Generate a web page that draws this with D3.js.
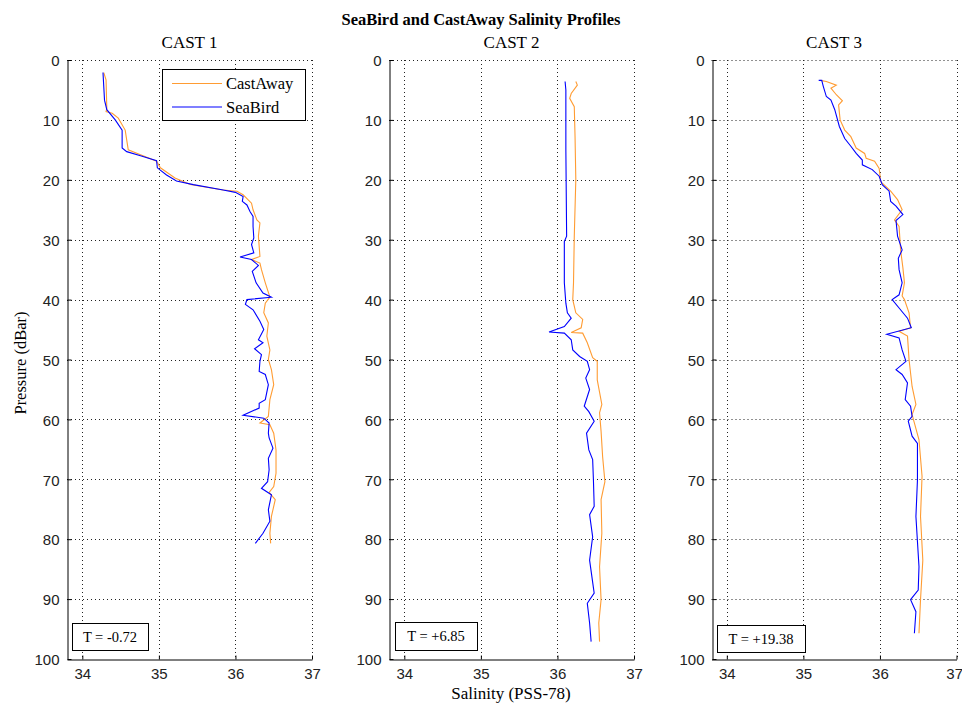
<!DOCTYPE html>
<html><head><meta charset="utf-8">
<script src="https://cdn.jsdelivr.net/npm/d3@7/dist/d3.min.js"></script>
<style>body{margin:0;background:#fff}svg{display:block}</style>
</head><body><svg id="c" width="962" height="706"></svg>
<script>
// ---------- data ----------
const castTitles = ["CAST 1", "CAST 2", "CAST 3"];
const temperatureLabels = ["T = -0.72", "T = +6.85", "T = +19.38"];
const seriesNames = ["CastAway", "SeaBird"];
const salinityTicks = [34, 35, 36, 37];
const pressureTicks = [0, 10, 20, 30, 40, 50, 60, 70, 80, 90, 100];

// [salinity, pressure]
const cast1CastAway = [[34.28,2.1],[34.31,3.3],[34.32,8.1],[34.31,8.6],[34.39,8.9],[34.47,9.7],[34.56,11.7],[34.6,15],[34.76,15.8],[34.97,16.9],[35.02,18],[35.21,19.7],[35.41,20.8],[35.84,21.7],[36.02,21.9],[36.1,22.5],[36.21,23.9],[36.23,25],[36.28,26.7],[36.32,27.2],[36.3,29.4],[36.32,32.8],[36.21,33.3],[36.32,33.9],[36.34,35],[36.39,37.2],[36.45,39.6],[36.39,40.6],[36.37,42.2],[36.43,43.9],[36.41,46.1],[36.45,48.4],[36.43,50],[36.47,51.7],[36.5,54.2],[36.45,56.7],[36.43,59.5],[36.32,60.6],[36.45,60.9],[36.5,62.3],[36.53,65.1],[36.53,69],[36.5,71.2],[36.44,72.2],[36.52,73.4],[36.47,76.2],[36.45,79],[36.46,80.7]];
const cast1SeaBird = [[34.27,2.1],[34.29,6.7],[34.32,8.3],[34.43,10],[34.52,11.7],[34.52,14.7],[34.58,15.3],[34.76,16],[34.97,16.8],[34.98,18],[35.1,19.2],[35.23,20.2],[35.45,20.8],[35.84,21.7],[36.0,22.1],[36.1,22.8],[36.09,23.6],[36.15,24.2],[36.19,25.3],[36.23,26.1],[36.23,27.8],[36.24,29.7],[36.21,30.8],[36.24,32.2],[36.06,32.9],[36.21,33.3],[36.3,34.3],[36.22,35.3],[36.27,37.2],[36.36,38.9],[36.47,39.6],[36.15,40],[36.13,40.8],[36.23,41.7],[36.32,43.6],[36.37,45],[36.3,46.7],[36.36,47.2],[36.25,48.2],[36.34,49.2],[36.32,50.3],[36.31,52],[36.39,52.5],[36.43,54.2],[36.39,56.7],[36.31,57.3],[36.31,58.1],[36.1,59.3],[36.37,59.8],[36.44,60.6],[36.43,62.3],[36.44,63.1],[36.49,64.8],[36.43,66.5],[36.44,68.4],[36.42,70.4],[36.34,71.5],[36.47,72.6],[36.43,75.1],[36.45,77],[36.36,79],[36.26,80.7]];
const cast2CastAway = [[36.24,3.6],[36.26,4.2],[36.18,5.6],[36.16,6.4],[36.22,7.8],[36.23,12.8],[36.24,20],[36.22,29.4],[36.21,37.2],[36.2,40],[36.24,42.2],[36.33,43.3],[36.31,44.7],[36.18,45.5],[36.33,45.6],[36.39,47.2],[36.46,49.7],[36.52,50.3],[36.52,53.4],[36.58,57.5],[36.55,58.9],[36.57,62],[36.59,66.2],[36.62,70.4],[36.57,73.4],[36.58,79],[36.55,84.6],[36.57,90.1],[36.54,94],[36.55,97.1]];
const cast2SeaBird = [[36.1,3.6],[36.11,5],[36.11,15],[36.12,29.4],[36.09,30.3],[36.09,37.2],[36.11,40.6],[36.13,42.2],[36.18,43.1],[36.09,44.5],[35.89,45.4],[36.09,45.6],[36.18,46.7],[36.2,48.4],[36.29,49.5],[36.39,50.3],[36.42,51.7],[36.37,53.1],[36.42,55],[36.35,57.8],[36.41,58.7],[36.48,60.3],[36.38,62.3],[36.41,65.1],[36.46,66.7],[36.47,70.1],[36.48,74.5],[36.42,75.9],[36.46,79.6],[36.42,83.5],[36.48,89],[36.39,90.7],[36.42,94],[36.44,97.1]];
const cast3CastAway = [[35.22,3.4],[35.3,3.6],[35.43,4.2],[35.36,4.7],[35.43,5.8],[35.51,6.8],[35.46,7.5],[35.48,10],[35.54,11.7],[35.62,12.8],[35.69,14.7],[35.8,15.6],[35.82,16.4],[35.93,16.9],[35.99,18.1],[36.01,20.3],[36.14,21.9],[36.23,23.3],[36.29,25],[36.19,26.7],[36.25,27.8],[36.27,31.7],[36.3,34.7],[36.32,37.2],[36.29,39.4],[36.32,40],[36.38,42.2],[36.4,44.7],[36.25,45.3],[36.36,46.1],[36.38,50],[36.42,54.5],[36.47,57.5],[36.42,59.2],[36.51,63.4],[36.55,69.5],[36.53,76.2],[36.56,83.5],[36.53,90.1],[36.51,95.7]];
const cast3SeaBird = [[35.2,3.4],[35.24,3.4],[35.26,4.4],[35.3,6.1],[35.36,6.7],[35.41,8.3],[35.47,11.1],[35.54,13.1],[35.62,14.4],[35.69,15.6],[35.77,16.7],[35.77,17.5],[35.9,18.3],[35.99,19.4],[36.03,20.8],[36.12,21.9],[36.14,23.6],[36.21,24.4],[36.3,25.8],[36.21,26.8],[36.23,29.4],[36.29,31.7],[36.24,33.1],[36.25,35],[36.29,37.2],[36.25,39.2],[36.16,40],[36.25,41.4],[36.36,43.1],[36.41,44.7],[36.09,45.8],[36.25,46.4],[36.29,48.4],[36.34,50.3],[36.21,51.7],[36.29,52.5],[36.36,53.9],[36.33,56.7],[36.4,57.8],[36.42,59.5],[36.37,60.3],[36.42,62.8],[36.49,64],[36.49,70.1],[36.47,76.2],[36.51,84.6],[36.5,88.5],[36.4,90.1],[36.47,92.1],[36.45,95.7]];

const casts = [
  {castAway: cast1CastAway, seaBird: cast1SeaBird},
  {castAway: cast2CastAway, seaBird: cast2SeaBird},
  {castAway: cast3CastAway, seaBird: cast3SeaBird}
];

// ---------- layout ----------
const svg = d3.select("#c");
const orange = "#ff9c33", blue = "#0000ff";
const panelLeft = [67, 389, 711.5];
const panelW = 245, plotTop = 60, plotBottom = 659;
const serif = "'Liberation Serif','Times New Roman',serif";
const sans = "'Liberation Sans',Arial,sans-serif";
const tBoxes = [[72,623,76,27],[395,622,82,28],[717,625,88,27]];

svg.append("rect").attr("width",962).attr("height",706).attr("fill","#fff");

svg.append("text").attr("x",481).attr("y",24.5).attr("text-anchor","middle")
  .attr("font-family",serif).attr("font-weight","bold").attr("font-size",16.5)
  .text("SeaBird and CastAway Salinity Profiles");

casts.forEach((c, i) => {
  const x = d3.scaleLinear().domain([33.8, 37]).range([panelLeft[i], panelLeft[i] + panelW]);
  const y = d3.scaleLinear().domain([0, 100]).range([plotTop, plotBottom]);
  const g = svg.append("g");

  // grid
  g.selectAll(".gx").data(salinityTicks).join("line")
    .attr("x1", d => Math.round(x(d)) + 0.5).attr("x2", d => Math.round(x(d)) + 0.5)
    .attr("y1", plotTop).attr("y2", plotBottom)
    .attr("stroke", "#222").attr("stroke-width", 1).attr("stroke-dasharray", "1,3");
  g.selectAll(".gy").data(pressureTicks.filter(d => d < 100)).join("line")
    .attr("y1", d => Math.round(y(d)) + 0.5).attr("y2", d => Math.round(y(d)) + 0.5)
    .attr("x1", x(33.8)).attr("x2", x(37))
    .attr("stroke", "#222").attr("stroke-width", 1).attr("stroke-dasharray", "1,3");

  // axes
  const yAxis = d3.axisLeft(y).tickValues(pressureTicks).tickFormat(d3.format("d"))
    .tickSizeInner(-4).tickSizeOuter(0).tickPadding(8);
  const gy = g.append("g").attr("transform", `translate(${Math.round(x(33.8)) + 0.5},0)`).call(yAxis);
  const xAxis = d3.axisBottom(x).tickValues(salinityTicks).tickFormat(d3.format("d"))
    .tickSizeInner(-4).tickSizeOuter(0).tickPadding(8);
  const gx = g.append("g").attr("transform", `translate(0,${Math.round(y(100)) + 0.5})`).call(xAxis);
  [gx, gy].forEach(a => {
    a.select(".domain").attr("stroke", "#000");
    a.selectAll(".tick line").attr("stroke", "#000");
    a.selectAll(".tick text").attr("font-family", sans).attr("font-size", 15).attr("fill", "#222");
  });
  gy.selectAll(".tick text").attr("dy", "0.38em");
  gx.selectAll(".tick text").attr("dy", "0.78em");
  if (i === 2) {
    gx.selectAll(".tick text").filter(d => d === 37).attr("text-anchor", "end").attr("dx", 6);
  }

  // lines
  const line = d3.line().x(d => x(d[0])).y(d => y(d[1]));
  g.append("path").datum(c.castAway).attr("d", line).attr("fill", "none")
    .attr("stroke", orange).attr("stroke-width", 1.1);
  g.append("path").datum(c.seaBird).attr("d", line).attr("fill", "none")
    .attr("stroke", blue).attr("stroke-width", 1.1);

  // cast title
  svg.append("text").attr("x", (x(33.8) + x(37)) / 2).attr("y", 47.5).attr("text-anchor", "middle")
    .attr("font-family", serif).attr("font-size", 17).text(castTitles[i]);

  // temperature box
  const b = tBoxes[i];
  svg.append("rect").attr("x", b[0] + 0.5).attr("y", b[1] + 0.5).attr("width", b[2]).attr("height", b[3])
    .attr("fill", "#fff").attr("stroke", "#000").attr("stroke-width", 1);
  svg.append("text").attr("x", b[0] + b[2] / 2).attr("y", b[1] + b[3] / 2 + 5).attr("text-anchor", "middle")
    .attr("font-family", serif).attr("font-size", 14.5).text(temperatureLabels[i]);

  // legend (first panel)
  if (i === 0) {
    const lg = svg.append("g");
    lg.append("rect").attr("x", 162.5).attr("y", 69.5).attr("width", 143).attr("height", 51)
      .attr("fill", "#fff").attr("stroke", "#000").attr("stroke-width", 1);
    [orange, blue].forEach((col, k) => {
      const yy = 83.5 + k * 23.5;
      lg.append("line").attr("x1", 172).attr("x2", 222).attr("y1", yy).attr("y2", yy)
        .attr("stroke", col).attr("stroke-width", 1.1);
      lg.append("text").attr("x", 226).attr("y", yy + 5.5).attr("font-family", serif)
        .attr("font-size", 16.5).text(seriesNames[k]);
    });
  }
});

// axis labels
svg.append("text").attr("x", 511).attr("y", 699).attr("text-anchor", "middle")
  .attr("font-family", serif).attr("font-size", 17).text("Salinity (PSS-78)");
svg.append("text").attr("transform", "translate(25.5,363) rotate(-90)").attr("text-anchor", "middle")
  .attr("font-family", serif).attr("font-size", 16.5).text("Pressure (dBar)");
</script></body></html>
